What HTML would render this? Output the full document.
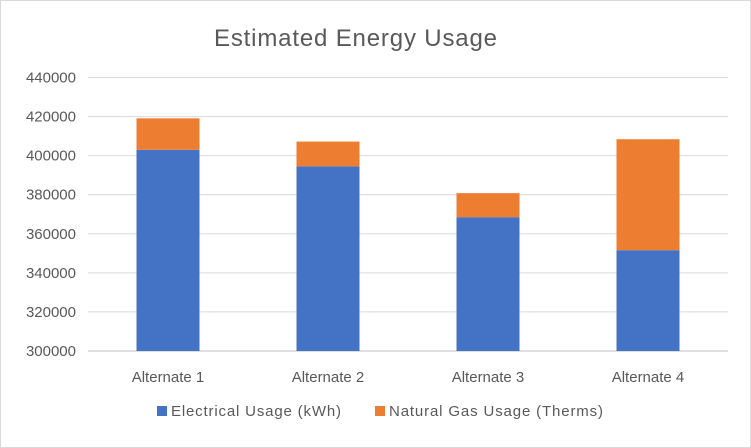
<!DOCTYPE html>
<html><head><style>
body{margin:0;background:#fff;}
svg{display:block;font-family:"Liberation Sans",sans-serif;}
</style></head><body>
<svg id="chart" width="751" height="448">
<rect x="0.5" y="0.5" width="750" height="447" fill="#fff" stroke="#d9d9d9"/>
<text x="214" y="46" textLength="283" font-size="24" fill="#595959">Estimated Energy Usage</text>
<g id="grid"></g><g id="bars"></g><g id="labels"></g>
<rect x="157" y="406" width="10" height="10" fill="#4472c4"/>
<text x="171" y="416" textLength="170" font-size="15" fill="#595959">Electrical Usage (kWh)</text>
<rect x="375" y="406" width="10" height="10" fill="#ed7d31"/>
<text x="389" y="416" textLength="214" font-size="15" fill="#595959">Natural Gas Usage (Therms)</text>
</svg>
<script>
const categories=["Alternate 1","Alternate 2","Alternate 3","Alternate 4"];
const electrical=[403000,394500,368500,351600];
const gas=[16100,12700,12300,56800];
const ticks=[300000,320000,340000,360000,380000,400000,420000,440000];
const NS="http://www.w3.org/2000/svg";
const x0=88,x1=728,yMin=300000,yMax=440000,py0=351,py1=77.5;
const y=v=>py0-(v-yMin)/(yMax-yMin)*(py0-py1);
const band=(x1-x0)/categories.length;
function mk(t,a,p){const e=document.createElementNS(NS,t);for(const k in a)e.setAttribute(k,a[k]);p.appendChild(e);return e;}
const grid=document.getElementById('grid'),bars=document.getElementById('bars'),labels=document.getElementById('labels');
ticks.forEach(t=>{
 const l=mk('line',{x1:x0,x2:x1,y1:y(t),y2:y(t),stroke:t===yMin?'#bfbfbf':'#d9d9d9','stroke-width':1},grid);
 
 
 const tx=mk('text',{x:76,y:y(t)+5,'text-anchor':'end','font-size':15,fill:'#595959'},labels);
 tx.textContent=t;
 
 
});
categories.forEach((c,i)=>{
 const cx=x0+band*(i+0.5),w=63;
 const b=mk('rect',{x:cx-w/2,y:y(electrical[i]),width:w,height:py0-y(electrical[i]),fill:'#4472c4'},bars);
 
 
 const tot=electrical[i]+gas[i];
 const g=mk('rect',{x:cx-w/2,y:y(tot),width:w,height:y(electrical[i])-y(tot),fill:'#ed7d31'},bars);
 
 
 const tx=mk('text',{x:cx,y:382,'text-anchor':'middle','font-size':15,fill:'#595959'},labels);
 tx.textContent=c;
 
 
});
</script>
</body></html>
